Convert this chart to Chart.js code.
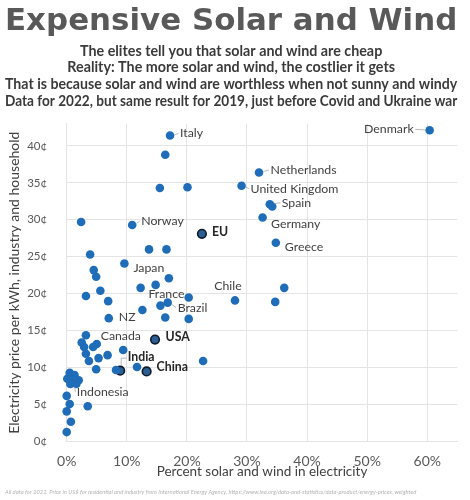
<!DOCTYPE html>
<html>
<head>
<meta charset="utf-8">
<script src="https://cdn.jsdelivr.net/npm/chart.js@4.4.1/dist/chart.umd.min.js"></script>
<style>
  html, body { margin: 0; padding: 0; background: #ffffff; }
  #wrap { width: 470px; height: 500px; position: relative; }
</style>
</head>
<body>
<div id="wrap"><canvas id="c" width="470" height="500"></canvas></div>
<script>
// ---- data ----
const countryNames = [
  'Denmark','Italy','','Netherlands','United Kingdom','','','Spain','','Germany',
  '','Norway','EU','Greece','','','','Japan','','',
  '','','','','','','','Chile','','',
  'Brazil','France','','','NZ','','','USA','','',
  '','','Canada','','','','','','','',
  '','India','China','','','','','','Indonesia','',
  '','','','','',''
];
const solarWindShare = [
  60.4,17.2,16.4,32.0,29.1,15.5,20.1,33.8,34.2,32.6,
  2.4,10.9,22.5,34.8,13.7,16.6,3.9,9.6,4.5,4.9,
  17.0,14.8,12.3,36.2,5.6,3.2,20.3,28.0,6.9,34.7,
  16.8,15.6,12.6,16.4,7.0,20.3,3.2,14.7,2.5,5.0,
  2.9,4.4,9.4,3.2,6.8,5.3,3.7,22.7,11.7,4.9,
  8.2,8.9,13.3,0.5,1.3,0.1,2.0,1.0,0.6,1.6,
  0.0,0.5,3.5,0.0,0.7,0.0
];
const priceCents = [
  42.1,41.4,38.8,36.4,34.6,34.3,34.4,32.1,31.8,30.3,
  29.7,29.3,28.1,26.9,26.0,26.0,25.3,24.1,23.2,22.3,
  22.1,21.2,20.8,20.8,20.4,19.7,19.5,19.1,19.0,18.9,
  18.8,18.4,17.8,16.8,16.7,16.6,14.4,13.8,13.4,13.2,
  12.8,12.8,12.4,11.9,11.7,11.3,10.9,10.9,10.1,9.8,
  9.7,9.6,9.5,9.3,9.0,8.5,8.3,8.3,7.8,7.8,
  6.2,5.1,4.8,4.1,2.7,1.3
];
const highlightNames = ['EU','USA','India','China'];
const xTickValues = [0,10,20,30,40,50,60];
const yTickValues = [0,5,10,15,20,25,30,35,40];

const titleText = 'Expensive Solar and Wind';
const subtitleLines = [
  'The elites tell you that solar and wind are cheap',
  'Reality: The more solar and wind, the costlier it gets',
  'That is because solar and wind are worthless when not sunny and windy',
  'Data for 2022, but same result for 2019, just before Covid and Ukraine war'
];
const xTitle = 'Percent solar and wind in electricity';
const yTitle = 'Electricity price per kWh, industry and household';
const footnote = 'All data for 2022. Price in US$ for residential and industry from International Energy Agency. https://www.iea.org/data-and-statistics/data-product/energy-prices, weighted';

// ---- build datasets ----
const normalPts = [], highPts = [];
countryNames.forEach((n, i) => {
  const p = { x: solarWindShare[i], y: priceCents[i], name: n };
  (highlightNames.includes(n) ? highPts : normalPts).push(p);
});

// label placement (pixel offsets from each point)
const labelStyle = {
  'Denmark':        { dx: -16, dy: -1, align: 'right', leader: true },
  'Italy':          { dx: 10, dy: -2, leader: true },
  'Netherlands':    { dx: 11.5, dy: -2.5, leader: true },
  'United Kingdom': { dx: 9, dy: 3, leader: true },
  'Spain':          { dx: 12, dy: -1.5, leader: true },
  'Germany':        { dx: 8.5, dy: 6 },
  'Greece':         { dx: 9, dy: 4 },
  'Norway':         { dx: 9, dy: -4, leader: true },
  'EU':             { dx: 10, dy: -1.5 },
  'Japan':          { dx: 9, dy: 5 },
  'France':         { dx: -12, dy: -12 },
  'Brazil':         { dx: 10, dy: 5, leader: true },
  'Chile':          { dx: -7, dy: -14, align: 'center' },
  'NZ':             { dx: 10, dy: -1.5 },
  'Canada':         { dx: -22.5, dy: -14 },
  'USA':            { dx: 10.5, dy: -3 },
  'India':          { dx: 7.5, dy: -13.5, leaderV: true },
  'China':          { dx: 10, dy: -4.7 },
  'Indonesia':      { dx: 6.5, dy: 8, leader: true }
};

const pointLabels = {
  id: 'pointLabels',
  afterDatasetsDraw(chart) {
    const { ctx, scales: { x, y } } = chart;
    ctx.save();
    countryNames.forEach((n, i) => {
      if (!n || !labelStyle[n]) return;
      const s = labelStyle[n];
      const px = x.getPixelForValue(solarWindShare[i]);
      const py = y.getPixelForValue(priceCents[i]);
      const tx = px + s.dx, ty = py + s.dy;
      const bold = highlightNames.includes(n);
      ctx.strokeStyle = '#a8a8a8';
      ctx.lineWidth = 0.8;
      if (s.leader) {
        const dirx = s.align === 'right' ? -1 : 1;
        ctx.beginPath();
        ctx.moveTo(px + dirx * 4.5, py + (ty - py) * 0.4);
        ctx.lineTo(tx - dirx * 1.5, ty);
        ctx.stroke();
      }
      if (s.leaderV) {
        ctx.beginPath();
        ctx.moveTo(px + 1, py - 5);
        ctx.lineTo(px + 1, ty + 1);
        ctx.lineTo(tx - 1, ty + 1);
        ctx.stroke();
      }
      ctx.font = (bold ? 'bold ' : '') + '12.3px Lato';
      ctx.fillStyle = bold ? '#262626' : '#404040';
      ctx.textAlign = s.align || 'left';
      ctx.textBaseline = 'middle';
      ctx.fillText(n, tx, ty);
    });
    ctx.restore();
  }
};

const footnotePlugin = {
  id: 'footnote',
  afterDraw(chart) {
    const { ctx } = chart;
    ctx.save();
    ctx.font = 'italic 5.8px Lato';
    ctx.fillStyle = '#b3b3b3';
    ctx.textAlign = 'left';
    ctx.textBaseline = 'middle';
    ctx.fillText(footnote, 5, 492);
    ctx.restore();
  }
};

const gridColor = '#e4e4e4';

new Chart(document.getElementById('c'), {
  type: 'scatter',
  data: {
    datasets: [
      {
        label: 'Countries',
        data: normalPts,
        backgroundColor: '#1f6db8',
        borderColor: '#1f6db8',
        borderWidth: 0,
        pointRadius: 4.3,
        clip: false
      },
      {
        label: 'Highlighted',
        data: highPts,
        backgroundColor: '#2b5f93',
        borderColor: '#0e1a28',
        borderWidth: 1.6,
        pointRadius: 4.3,
        clip: false
      }
    ]
  },
  options: {
    responsive: false,
    animation: false,
    devicePixelRatio: 1,
    layout: { padding: { left: 5, right: 12.7, top: 0, bottom: 14 } },
    plugins: {
      legend: { display: false },
      tooltip: { enabled: false },
      title: {
        display: true,
        text: titleText,
        color: '#595959',
        font: { family: 'DejaVu Sans', weight: 'bold', size: 31, lineHeight: 1.35 },
        padding: { top: 1, bottom: 0 }
      },
      subtitle: {
        display: true,
        text: subtitleLines,
        color: '#3a3a3a',
        font: { family: 'Lato', weight: 'bold', size: 14.3, lineHeight: '16.67px' },
        padding: { top: 0, bottom: 14.1 }
      }
    },
    scales: {
      x: {
        type: 'linear',
        min: 0,
        max: 65,
        afterBuildTicks: (axis) => { axis.ticks = xTickValues.map(v => ({ value: v })); },
        afterFit: (s) => { s.height = 44.3; },
        grid: { color: gridColor, drawTicks: false },
        border: { color: gridColor },
        ticks: {
          padding: 11.6,
          color: '#595959',
          font: { family: 'Lato', size: 14 },
          callback: (v) => v + '%'
        },
        title: {
          display: true,
          text: xTitle,
          color: '#404040',
          font: { family: 'Lato', size: 13.5, lineHeight: 1.2 },
          padding: { top: 0, bottom: 5.9 }
        }
      },
      y: {
        type: 'linear',
        min: 0,
        max: 43,
        afterBuildTicks: (axis) => { axis.ticks = yTickValues.map(v => ({ value: v })); },
        afterFit: (s) => { s.width = 61.7; },
        grid: { color: gridColor, drawTicks: false },
        border: { color: gridColor },
        ticks: {
          padding: 19.5,
          color: '#595959',
          font: { family: 'Lato', size: 11.5 },
          callback: (v) => v + '¢'
        },
        title: {
          display: true,
          text: yTitle,
          color: '#404040',
          font: { family: 'Lato', size: 14, lineHeight: 1.2 },
          padding: { top: 0.6, bottom: 0 }
        }
      }
    }
  },
  plugins: [pointLabels, footnotePlugin]
});
</script>
</body>
</html>
